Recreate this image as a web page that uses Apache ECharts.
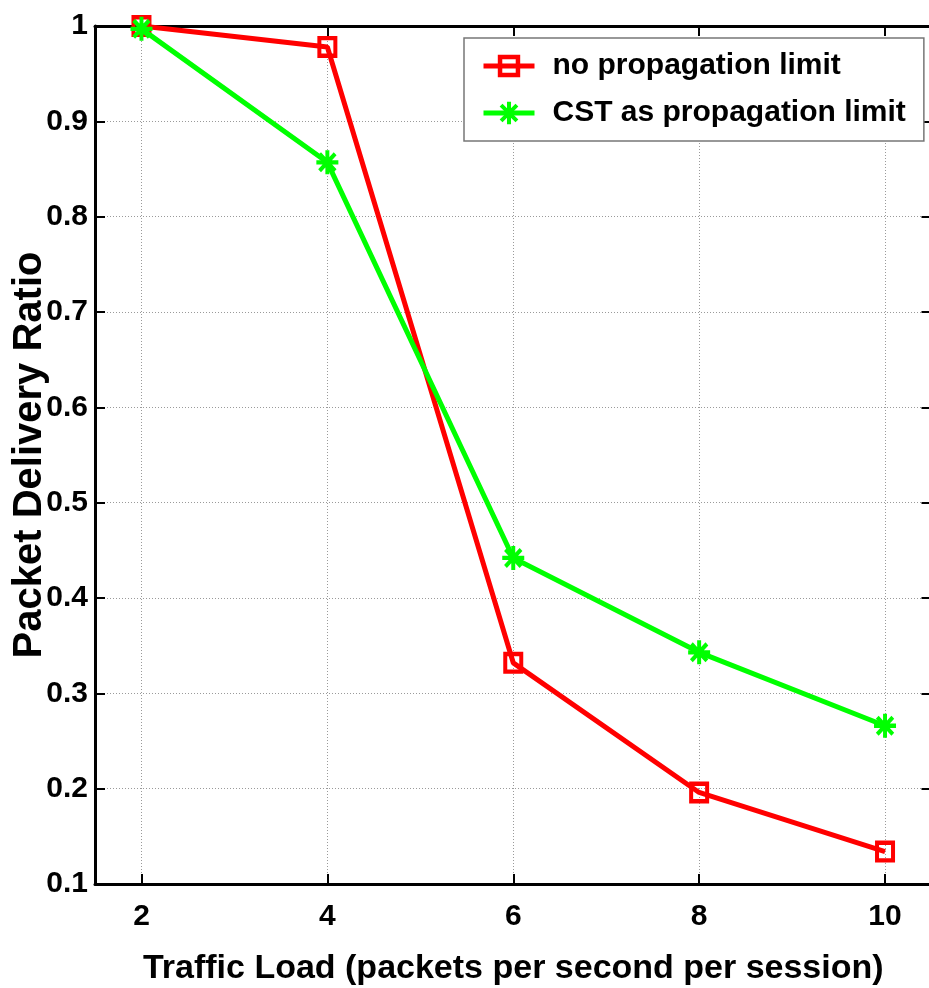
<!DOCTYPE html>
<html>
<head>
<meta charset="utf-8">
<script src="https://cdn.jsdelivr.net/npm/echarts@6/dist/echarts.min.js"></script>
<style>
html,body{margin:0;padding:0;background:#fff;}
#chart{width:929px;height:988px;}
</style>
</head>
<body>
<div id="chart"></div>
<script>
// ---- data ----
const xValues = [2, 4, 6, 8, 10];
const noLimit = [1.0, 0.978, 0.332, 0.196, 0.134];
const cstLimit = [0.997, 0.857, 0.442, 0.343, 0.266];
const seriesNames = ['no propagation limit', 'CST as propagation limit'];
const xTicks = [2, 4, 6, 8, 10];
const xTitle = 'Traffic Load (packets per second per session)';
const yTitle = 'Packet Delivery Ratio';

const FONT = '"Liberation Sans", Arial, sans-serif';
const squarePath = 'path://M0,0H20V20H0Z M4,4V16H16V4Z';
const starPath = 'path://M0,41H100V59H0Z M41,0H59V100H41Z M8.28,21L21,8.28L91.72,79L79,91.72Z M8.28,79L79,8.28L91.72,21L21,91.72Z';

const chart = echarts.init(document.getElementById('chart'), null, {renderer: 'canvas'});

const tickStyle = {show: true, inside: true, length: 10, lineStyle: {color: '#000', width: 2}};
const axisLineStyle = {show: true, onZero: false, lineStyle: {color: '#000', width: 3}};
const gridLine = {show: true, lineStyle: {color: '#9a9a9a', width: 1, type: [1, 2]}};

chart.setOption({
  animation: false,
  backgroundColor: '#fff',
  grid: {left: 95, top: 26, width: 836.5, height: 858, containLabel: false, outerBoundsMode: 'none'},
  legend: {
    orient: 'vertical',
    left: 464, top: 38,
    padding: [13, 18, 13, 17],
    itemWidth: 51, itemHeight: 28, itemGap: 17,
    backgroundColor: '#fff',
    borderColor: '#777', borderWidth: 1.5,
    lineStyle: {width: 5},
    textStyle: {fontFamily: FONT, fontWeight: 'bold', fontSize: 30, color: '#000', lineHeight: 28, padding: [0, 0, 0, 13]},
    data: seriesNames
  },
  xAxis: [{
    type: 'value', min: 1.5, max: 10.5, position: 'bottom',
    name: xTitle, nameLocation: 'middle', nameGap: 68, nameMoveOverlap: false,
    nameTextStyle: {fontFamily: FONT, fontWeight: 'bold', fontSize: 34, color: '#000'},
    axisLine: axisLineStyle,
    axisTick: Object.assign({customValues: xTicks}, tickStyle),
    axisLabel: {customValues: xTicks, margin: 18, fontFamily: FONT, fontWeight: 'bold', fontSize: 30, color: '#000'},
    splitLine: gridLine
  }, {
    type: 'value', min: 1.5, max: 10.5, position: 'top',
    axisLine: axisLineStyle,
    axisTick: Object.assign({customValues: xTicks}, tickStyle),
    axisLabel: {show: false},
    splitLine: {show: false}
  }],
  yAxis: [{
    type: 'value', min: 0.1, max: 1, interval: 0.1, position: 'left',
    name: yTitle, nameLocation: 'middle', nameGap: 45, nameMoveOverlap: false,
    nameTextStyle: {fontFamily: FONT, fontWeight: 'bold', fontSize: 40, color: '#000'},
    axisLine: axisLineStyle,
    axisTick: tickStyle,
    axisLabel: {margin: 7, fontFamily: FONT, fontWeight: 'bold', fontSize: 30, color: '#000',
      formatter: v => String(Math.round(v * 10) / 10)},
    splitLine: gridLine
  }, {
    type: 'value', min: 0.1, max: 1, interval: 0.1, position: 'right',
    axisLine: axisLineStyle,
    axisTick: tickStyle,
    axisLabel: {show: false},
    splitLine: {show: false}
  }],
  series: [{
    name: seriesNames[0], type: 'line', clip: false,
    data: xValues.map((x, i) => [x, noLimit[i]]),
    symbol: squarePath, symbolSize: [20, 22], showAllSymbol: true,
    lineStyle: {color: '#ff0000', width: 5},
    itemStyle: {color: '#ff0000'},
    z: 3
  }, {
    name: seriesNames[1], type: 'line', clip: false,
    data: xValues.map((x, i) => [x, cstLimit[i]]),
    symbol: starPath, symbolSize: [22, 24], showAllSymbol: true,
    lineStyle: {color: '#00ff00', width: 5},
    itemStyle: {color: '#00ff00'},
    z: 4
  }]
});
</script>
</body>
</html>
